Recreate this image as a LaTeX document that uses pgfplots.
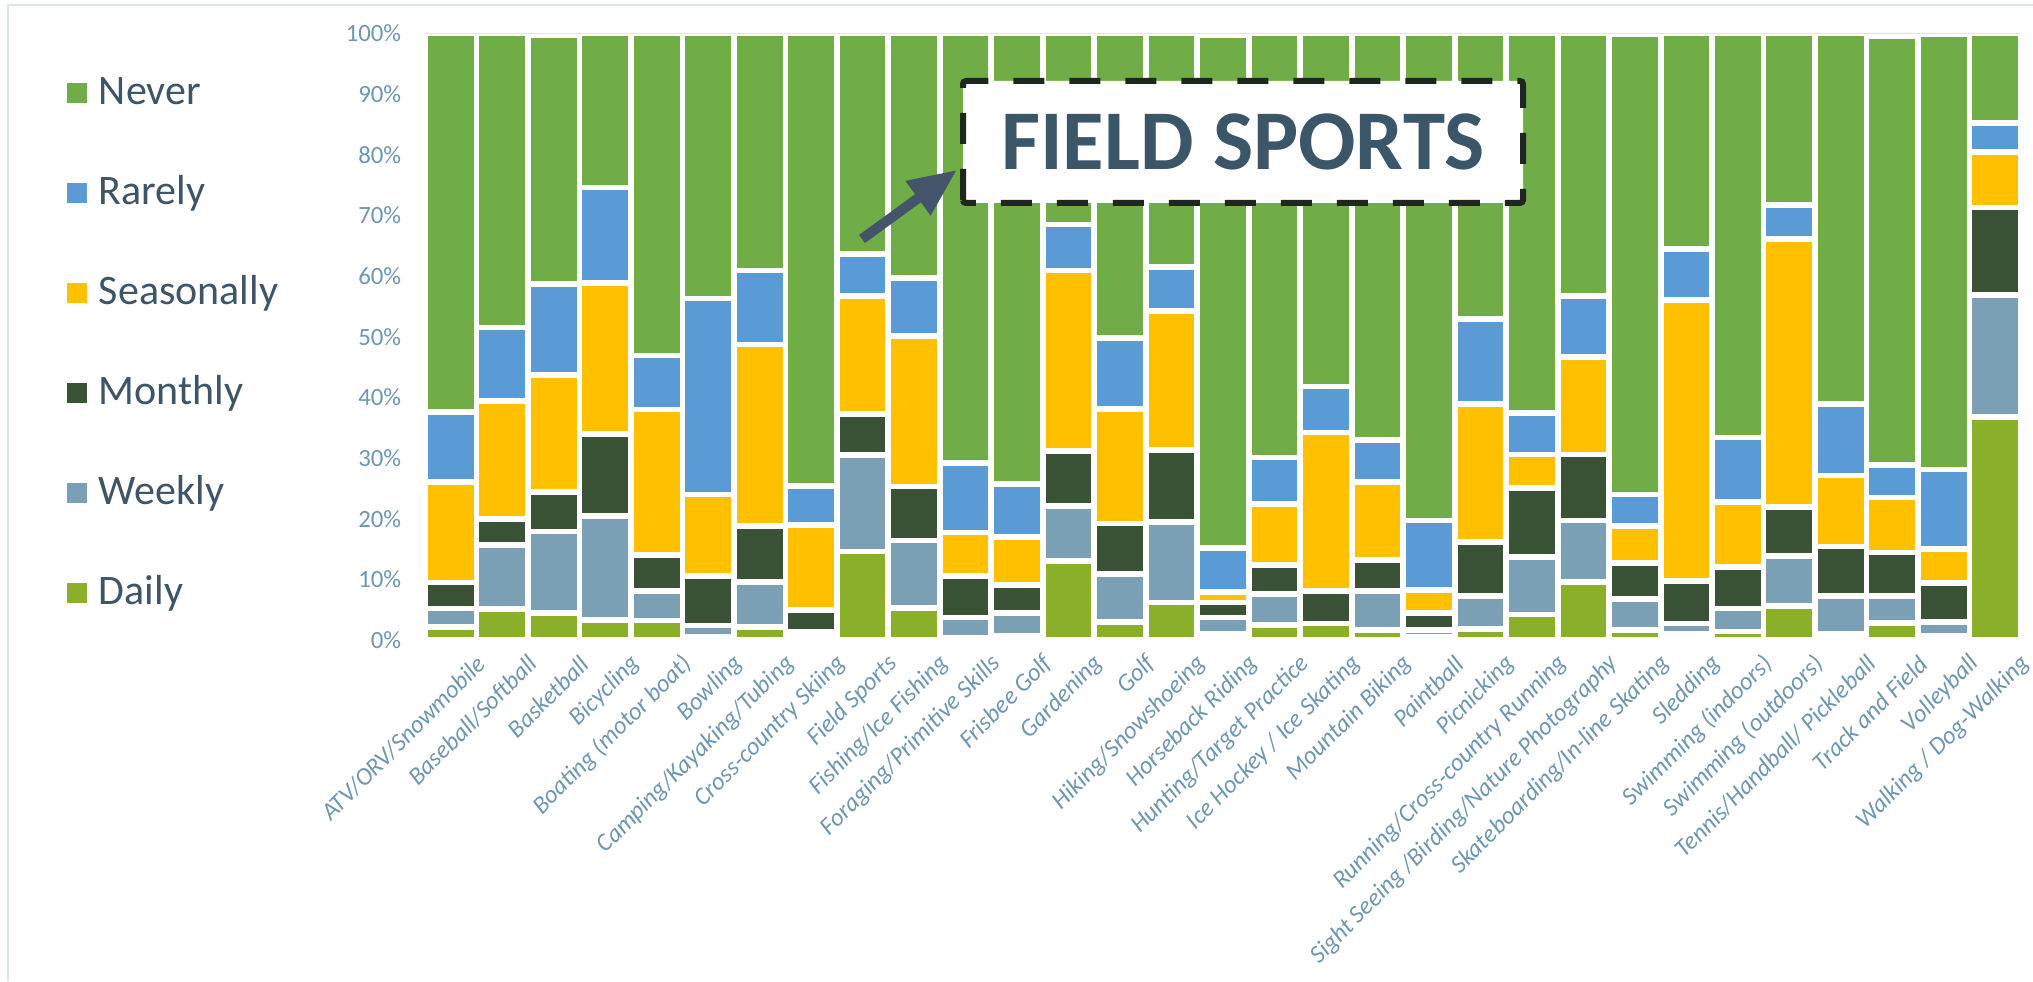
\documentclass[border=0pt]{standalone}
\usepackage{pgfplots}
\usepackage{pgfplotstable}
\pgfplotsset{compat=1.18}
\usepackage{fontspec}
\setmainfont{Carlito}
\usetikzlibrary{arrows.meta}

\definecolor{cNever}{HTML}{70AD47}
\definecolor{cRarely}{HTML}{5B9BD5}
\definecolor{cSeason}{HTML}{FFC000}
\definecolor{cMonth}{HTML}{3A5336}
\definecolor{cWeek}{HTML}{7BA0B5}
\definecolor{cDaily}{HTML}{8AB02A}
\definecolor{tickcol}{HTML}{6E96B2}
\definecolor{legcol}{HTML}{3E5568}
\definecolor{titlecol}{HTML}{3B5569}
\definecolor{arrowcol}{HTML}{44546A}
\definecolor{boxcol}{HTML}{1F271D}
\definecolor{axcol}{HTML}{D9E1E8}
\definecolor{bordercol}{HTML}{DDE5EC}
\definecolor{gridcol}{HTML}{E4E4E4}

\pgfplotstableread{
x  D     W     M     S     R     N
0  2.2   3.0   4.3   16.5  11.6  62.4
1  5.1   10.6  4.3   19.4  12.1  48.5
2  4.5   13.4  6.5   19.3  15.0  41.0
3  3.3   17.1  13.5  24.9  15.8  25.4
4  3.2   4.9   5.9   24.0  8.9   53.1
5  0.6   1.8   8.2   13.4  32.3  43.7
6  2.2   7.4   9.2   29.9  12.2  39.1
7  0.3   1.0   3.7   14.0  6.4   74.6
8  14.6  15.9  6.7   19.5  6.9   36.4
9  5.3   11.1  8.9   24.8  9.6   40.3
10 0.4   3.3   6.8   7.2   11.5  70.8
11 0.7   3.8   4.6   7.9   8.7   74.3
12 13.0  9.1   9.0   29.8  7.6   31.5
13 3.0   7.9   8.3   18.9  11.7  50.2
14 6.2   13.2  11.9  22.9  7.3   38.5
15 1.0   2.7   2.5   1.7   7.3   84.5
16 2.5   5.1   4.8   10.0  7.7   69.9
17 2.7   0.0   5.4   26.1  7.6   58.2
18 1.7   6.4   5.1   12.9  6.9   67.0
19 0.5   1.1   2.8   3.8   11.5  80.3
20 1.8   5.4   9.0   22.7  14.0  47.1
21 4.2   9.5   11.3  5.6   6.8   62.6
22 9.6   10.1  10.9  16.0  10.1  43.3
23 1.7   5.1   5.9   6.1   5.2   75.8
24 1.0   1.7   7.0   46.3  8.4   35.6
25 1.4   3.8   6.8   10.7  10.7  66.6
26 5.6   8.3   8.0   44.2  5.6   28.3
27 1.0   6.2   8.2   11.7  11.8  61.1
28 2.8   4.4   7.2   9.1   5.4   70.7
29 0.7   2.3   6.4   5.6   13.1  71.7
30 36.8  20.1  14.4  9.1   4.8   14.8
}\datatable

\begin{document}
\begin{tikzpicture}
\useasboundingbox (0,0) rectangle (1016.5pt,490.5pt);
\draw[bordercol, line width=1.3pt] (4pt,0pt) -- (4pt,488pt) -- (1016.5pt,488pt);
\begin{axis}[
  at={(212.5pt,170.5pt)}, anchor=south west,
  width=798pt, height=303.35pt, scale only axis,
  xmin=-0.5, xmax=30.5, ymin=0, ymax=100,
  ybar stacked, bar width=25.7pt,
  axis line style={draw=none},
  major tick length=0pt,
  ytick={0,10,...,100},
  yticklabels={0\%,10\%,20\%,30\%,40\%,50\%,60\%,70\%,80\%,90\%,100\%},
  yticklabel style={anchor=east, inner sep=0pt, xshift=-11.7pt,
    font=\fontsize{12.4}{12.4}\selectfont, text=tickcol},
  xtick={0,...,30},
  xticklabels={ATV/ORV/Snowmobile,Baseball/Softball,Basketball,Bicycling,Boating (motor boat),Bowling,Camping/Kayaking/Tubing,Cross-country Skiing,Field Sports,Fishing/Ice Fishing,Foraging/Primitive Skills,Frisbee Golf,Gardening,Golf,Hiking/Snowshoeing,Horseback Riding,Hunting/Target Practice,Ice Hockey / Ice Skating,Mountain Biking,Paintball,Picnicking,Running/Cross-country Running,Sight Seeing /Birding/Nature Photography,Skateboarding/In-line Skating,Sledding,Swimming (indoors),Swimming (outdoors),Tennis/Handball/ Pickleball,Track and Field,Volleyball,Walking / Dog-Walking},
  xticklabel style={rotate=45, anchor=east, inner sep=0pt, xshift=4pt, yshift=-18pt,
    font=\fontsize{12.4}{12.4}\selectfont\itshape, text=tickcol},
  every axis plot/.append style={draw=white, line width=2.85pt},
  reverse legend,
  legend image code/.code={\fill[#1,draw=none] (0pt,-5pt) rectangle (10pt,5pt);},
  legend style={at={(axis description cs:-0.2241,0.9332)}, anchor=north west,
    draw=none, fill=none, inner sep=0pt, outer sep=0pt,
    font=\fontsize{21}{21}\selectfont, text=legcol,
    cells={anchor=west, inner sep=0pt, text height=13.3pt, text depth=0pt},
    row sep=31.2pt,
    /tikz/every odd column/.append style={column sep=3.8pt}},
]
\draw[gridcol, line width=0.6pt] (rel axis cs:0,1) -- (rel axis cs:1,1);
\addplot[fill=cDaily] table[x=x,y=D] {\datatable};
\addplot[fill=cWeek] table[x=x,y=W] {\datatable};
\addplot[fill=cMonth] table[x=x,y=M] {\datatable};
\addplot[fill=cSeason] table[x=x,y=S] {\datatable};
\addplot[fill=cRarely] table[x=x,y=R] {\datatable};
\addplot[fill=cNever] table[x=x,y=N] {\datatable};
\legend{Daily,Weekly,Monthly,Seasonally,Rarely,Never}
\draw[axcol, line width=1.2pt] (rel axis cs:0,0) -- (rel axis cs:1,0);
\end{axis}
\draw[arrowcol, line width=5pt, -{Triangle[length=24pt,width=20pt]}] (431pt,371pt) -- (478.4pt,405.5pt);
\draw[boxcol, line width=3pt, dash pattern=on 15.5pt off 12.5pt, fill=white, rounded corners=1.5pt]
  (481.5pt,389pt) rectangle (761.5pt,450pt);
\node[anchor=base, inner sep=0pt, text=titlecol, font=\fontsize{42.5}{42.5}\selectfont\bfseries]
  at (621.5pt,405.5pt) {FIELD SPORTS};
\end{tikzpicture}
\end{document}
